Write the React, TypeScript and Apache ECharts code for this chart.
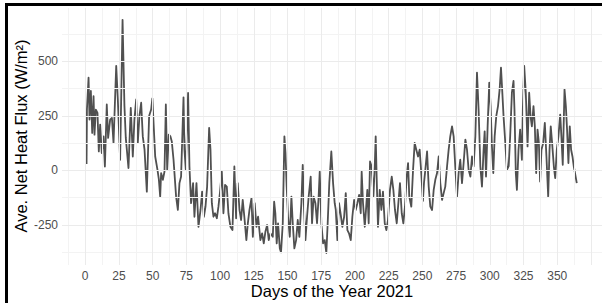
import React, { useEffect, useRef } from "react";
import * as echarts from "echarts";

const days: number[] = [
  1, 1.3, 2.5, 3.2, 4.2, 5.2, 6.2, 6.9, 7.9, 9.1, 10.1, 11.1, 12.3, 13.6, 14.6, 16, 17, 18.5, 19.8, 21,
  23, 24.2, 25.9, 27.7, 29.1, 30.1, 32.1, 33.8, 35.3, 36.5, 37.8, 39, 40.2, 41.5, 42.7, 44, 45.7, 47.4, 48.9, 49.8,
  51.9, 53.6, 54.6, 55.6, 56.3, 57.6, 58.8, 59.8, 60.8, 62, 63.2, 64.2, 65.5, 67.4, 68.7, 69.9, 71.1, 72.9, 73.6, 74.6,
  75.6, 76.3, 77.3, 78.5, 80, 81, 82.5, 84, 85.5, 86.7, 88, 89.2, 90.4, 91.9, 92.9, 93.9, 95.1, 96.3, 97.6, 98.8,
  100, 101.3, 102.5, 103.7, 105, 106.2, 107.7, 109.2, 110.6, 111.9, 113.1, 114.4, 115.6, 116.8, 118, 119.5, 120.6, 121.8, 123.3, 124.3,
  125.7, 127, 128.2, 129.9, 131.2, 132.4, 133.6, 134.9, 136.1, 137.3, 139.1, 140.1, 141, 142, 143, 144.3, 145.2, 146.5, 147.7, 148.5,
  149.4, 150.4, 151.7, 152.9, 153.9, 155.1, 156.4, 157.6, 158.8, 160.3, 161.3, 162.3, 163.3, 164.5, 165.7, 167.2, 168.2, 169.4, 170.7, 171.9,
  173.1, 173.9, 175.1, 176.4, 177.6, 178.8, 179.8, 181, 182.5, 183.8, 185, 185.8, 187, 188.2, 189.5, 190.7, 192, 193.2, 194.4, 195.6,
  196.9, 198.1, 199.4, 200.6, 201.8, 203.1, 204.3, 205, 206, 207.3, 208.2, 209.2, 210.2, 211.2, 212.4, 213.7, 214.7, 215.4, 216.1, 217.1,
  218.4, 219.6, 220.8, 222.1, 223.3, 224.5, 226, 227.3, 228.5, 229.7, 231, 232.2, 233.4, 234.7, 235.9, 237.1, 238.4, 239.4, 240.3, 241.8,
  243.1, 244.3, 245.5, 246.8, 248, 249.2, 250.4, 251.2, 252.2, 253.5, 254.7, 255.9, 257.2, 258.4, 259.6, 260.9, 262.1, 263.3, 264.6, 265.8,
  267, 268.3, 269.5, 270.7, 272, 273.2, 274.4, 275.7, 276.9, 278.1, 279.4, 280.6, 281.9, 283.1, 284.3, 285.6, 286.8, 288, 289.3, 290.5,
  291.7, 293, 294.2, 295.4, 296.2, 297.2, 298.4, 299.6, 300.6, 301.6, 302.6, 303.6, 304.8, 306.1, 307.3, 308.3, 309.3, 310.2, 311.5, 312.7,
  314, 315.1, 316.4, 317.6, 318.3, 319.3, 320.1, 321.3, 322.5, 323.8, 324.5, 325.5, 326.7, 328, 329.2, 330.2, 331.2, 332.4, 333.4, 334.4,
  335.4, 336.4, 337.3, 338.3, 339.6, 340.8, 342, 343.3, 344.3, 345.2, 346.2, 347.5, 348.5, 349.7, 350.9, 352.2, 353.1, 354.1, 355.4, 356.4,
  357.3, 358.3, 359.3, 360.3, 361.3, 362.3, 364.5,
];

const flux: number[] = [
  30, 280, 425, 233, 364, 172, 340, 164, 279, 264, 87, 210, 80, 156, 18, 302, 149, 233, 241, 126,
  479, 325, 49, 690, 295, 149, 11, 287, 64, 233, 325, 126, 249, 310, 156, 95, -97, 249, 279, 330,
  64, 3, -40, -120, -12, -43, -5, 302, 3, 164, 156, 133, 49, -120, -181, -58, -28, 335, 95, 3,
  210, 355, 18, -150, -58, -212, -58, -258, -181, -97, -212, -166, -74, 195, 95, -150, -212, -196, -219, -166,
  -97, -5, -196, -66, -74, -196, -258, -273, 18, -219, -58, -181, -227, -135, -212, -319, -242, -181, -127, -304,
  -150, -258, -212, -319, -288, -334, -281, -250, -319, -288, -304, -143, -196, -334, -242, -357, -375, -242, 156, 80,
  -74, -212, -304, -120, -242, -357, -319, -227, -304, -150, 26, -181, -319, -212, -120, -28, -242, -120, -150, -242,
  -120, -5, -242, -334, -319, -378, -242, -58, 87, -58, -150, -181, -319, -150, -204, -258, -212, -104, -273, -288,
  -319, -212, -135, -181, -150, -112, -196, -5, -150, -258, -181, -89, -242, 41, 18, -120, 18, 156, -28, -258,
  -89, -181, -97, -242, -273, -227, -89, -28, -89, -181, -242, -150, -58, -196, -242, -166, -28, 34, -120, -166,
  3, 126, 95, 64, 95, -12, -140, -58, 3, 87, -74, -166, -181, -89, -43, -12, 64, -58, -135, -104,
  -74, 18, 95, 156, 202, 156, 18, -120, -12, 49, -58, 34, 141, 95, 3, -28, 64, 18, 156, 448,
  279, 18, -74, 95, 179, -28, 202, 402, 295, 110, -12, 156, 249, 295, 371, 471, 356, 249, 126, 3,
  20, 156, 356, 410, 279, -12, -89, 95, 187, 49, 279, 479, 356, 110, 356, 249, 202, 295, 202, -12,
  187, 126, -51, 95, 126, 218, 64, -120, 95, 202, 126, 18, -35, 95, 156, 256, 156, 26, 371, 295,
  187, 34, 202, 95, 64, 18, -58,
];

const xTickLabels: number[] = [0, 25, 50, 75, 100, 125, 150, 175, 200, 225, 250, 275, 300, 325, 350];
const yTickLabels: number[] = [-250, 0, 250, 500];
const xMajorGrid: number[] = [0, 25, 50, 75, 100, 125, 150, 175, 200, 225, 250, 275, 300, 325, 350, 375];
const xMinorGrid: number[] = [-12.5, 12.5, 37.5, 62.5, 87.5, 112.5, 137.5, 162.5, 187.5, 212.5, 237.5, 262.5, 287.5, 312.5, 337.5, 362.5];
const yMajorGrid: number[] = [-250, 0, 250, 500];
const yMinorGrid: number[] = [-375, -125, 125, 375, 625];

const FONT = "'Liberation Sans', Arial, sans-serif";

export default function App() {
  const ref = useRef<HTMLDivElement>(null);
  useEffect(() => {
    if (!ref.current) return;
    const chart = echarts.init(ref.current, undefined, { renderer: "svg" });
    const data = days.map((d, i) => [d, flux[i]]);
    const gridLines = [
      ...xMinorGrid.map((v) => ({ xAxis: v, lineStyle: { color: "#F3F3F3", width: 1, type: "solid" } })),
      ...yMinorGrid.map((v) => ({ yAxis: v, lineStyle: { color: "#F3F3F3", width: 1, type: "solid" } })),
      ...xMajorGrid.map((v) => ({ xAxis: v, lineStyle: { color: "#EBEBEB", width: 1, type: "solid" } })),
      ...yMajorGrid.map((v) => ({ yAxis: v, lineStyle: { color: "#EBEBEB", width: 1, type: "solid" } })),
    ];
    chart.setOption({
      animation: false,
      backgroundColor: "#fff",
      grid: { left: 62, right: 0, top: 8, bottom: 38, containLabel: false },
      xAxis: {
        type: "value",
        min: -17.2,
        max: 383.2,
        axisLine: { show: false },
        axisTick: { show: false },
        splitLine: { show: false },
        axisLabel: {
          customValues: xTickLabels,
          color: "#4D4D4D",
          fontSize: 12,
          fontFamily: FONT,
          margin: 5,
        },
      },
      yAxis: {
        type: "value",
        min: -433,
        max: 744,
        axisLine: { show: false },
        axisTick: { show: false },
        splitLine: { show: false },
        axisLabel: {
          customValues: yTickLabels,
          color: "#4D4D4D",
          fontSize: 12,
          fontFamily: FONT,
          margin: 4,
        },
      },
      series: [
        {
          type: "line",
          data: [],
          z: 1,
          silent: true,
          markLine: {
            silent: true,
            symbol: ["none", "none"],
            label: { show: false },
            emphasis: { disabled: true },
            data: gridLines,
          },
        },
        {
          type: "line",
          data,
          z: 3,
          showSymbol: false,
          symbol: "none",
          lineStyle: { color: "#505050", width: 1.8, join: "round" },
        },
      ],
      graphic: [
        {
          type: "text",
          x: 21,
          y: 136,
          rotation: Math.PI / 2,
          style: {
            text: "Ave. Net Heat Flux (W/m²)",
            fill: "#000",
            fontSize: 16.5,
            fontFamily: FONT,
            align: "center",
            verticalAlign: "middle",
          },
        },
        {
          type: "text",
          x: 332,
          y: 291,
          style: {
            text: "Days of the Year 2021",
            fill: "#000",
            fontSize: 16.5,
            fontFamily: FONT,
            align: "center",
            verticalAlign: "middle",
          },
        },
        { type: "rect", shape: { x: 5, y: 3, width: 597, height: 3 }, style: { fill: "#000" } },
        { type: "rect", shape: { x: 5, y: 3, width: 3, height: 300 }, style: { fill: "#000" } },
      ],
    });
    return () => chart.dispose();
  }, []);
  return (
    <div
      ref={ref}
      style={{ position: "fixed", left: 0, top: 0, width: 602, height: 303 }}
    />
  );
}
